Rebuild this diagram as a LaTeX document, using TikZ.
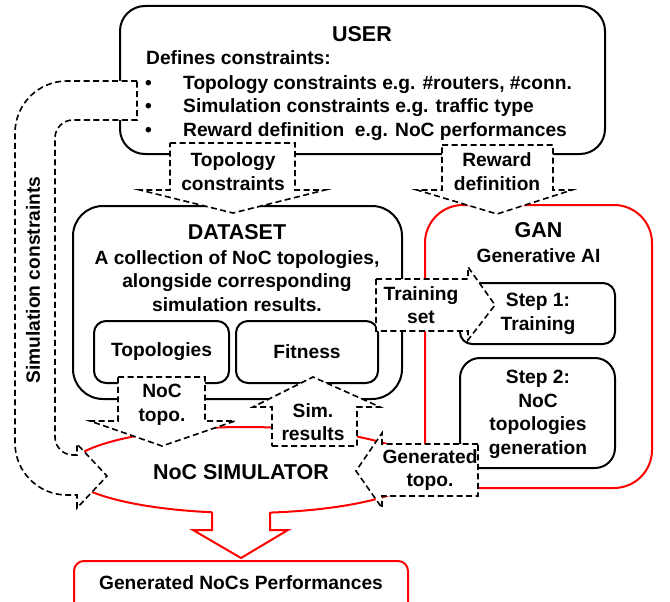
\documentclass[tikz,border=0pt]{standalone}
\usepackage{fontspec}
\setmainfont{Liberation Sans}
\usetikzlibrary{shapes.geometric}

\newcommand{\bodyfont}{\fontsize{19.2}{23.5}\selectfont\bfseries}
\newcommand{\titlefont}{\fontsize{21.5}{25}\selectfont\bfseries}

\begin{document}
\begin{tikzpicture}[x=1pt, y=-1pt,
    box/.style={rectangle, draw, line width=2pt, fill=white, inner sep=0},
    redbox/.style={box, draw=red},
    barrow/.style={draw, line width=1.6pt, dash pattern=on 6pt off 3.5pt, fill=white, line join=miter},
    lbl/.style={font=\bodyfont, align=center, inner sep=0},
    title/.style={font=\titlefont, inner sep=0}]

    \useasboundingbox (0,0) rectangle (670,602);
    \clip (0,0) rectangle (670,602);

    % USER
    \node [box, rounded corners=25, minimum width=485, minimum height=148] (user) at (362.5,80) {};
    \node [title] (usertxt) at (362,34) {USER};
    \node [lbl, anchor=base west] (defines) at (146,65) {Defines constraints:};
    \node [lbl, anchor=base west] (cons1) at (145,90) {\makebox[38pt][l]{•}Topology constraints e.g. \#routers, \#conn.};
    \node [lbl, anchor=base west] (cons2) at (145,113) {\makebox[38pt][l]{•}Simulation constraints e.g. traffic type};
    \node [lbl, anchor=base west] (cons3) at (145,136) {\makebox[38pt][l]{•}Reward definition\ \ e.g. NoC performances};

    % GAN
    \node [redbox, rounded corners=38, minimum width=227, minimum height=283] (gan) at (538.5,346.5) {};
    \node [title] (gantxt) at (538.5,230) {GAN};
    \node [lbl] (gensub) at (538.5,256) {Generative AI};
    \node [box, rounded corners=12, minimum width=155, minimum height=61] (step1) at (537.5,313.5) {};
    \node [lbl] (step1txt) at (538,314) {Step 1:\\Training};
    \node [box, rounded corners=20, minimum width=155, minimum height=110] (step2) at (537.5,413) {};
    \node [lbl] (step2txt) at (538,414.5) {Step 2:\\NoC\\topologies\\generation};

    % DATASET
    \node [box, rounded corners=30, minimum width=329, minimum height=193] (dataset) at (237.5,302.5) {};
    \node [title] (datatxt) at (237,232) {DATASET};
    \node [lbl] (datadesc) at (237,281) {A collection of NoC topologies,\\alongside corresponding\\simulation results.};
    \node [box, rounded corners=12, minimum width=135, minimum height=62] (topos) at (161.5,352) {};
    \node [lbl] (topostxt) at (161.5,352) {Topologies};
    \node [box, rounded corners=12, minimum width=142, minimum height=62] (fitness) at (307,352) {};
    \node [lbl] (fitnesstxt) at (307,352) {Fitness};

    % NoC SIMULATOR
    \node [ellipse, draw=red, line width=2pt, fill=white, minimum width=356, minimum height=86, inner sep=0] (sim) at (245,470) {};
    \fill [white] (212,505) -- (212,530) -- (193,530) -- (241,558) -- (288,530) -- (270,530) -- (270,505) -- cycle;
    \draw [red, line width=2pt, line join=miter] (212,512) -- (212,530) -- (193,530) -- (241,558) -- (288,530) -- (270,530) -- (270,512);
    \node [title] (simtxt) at (241,472) {NoC SIMULATOR};

    % Results
    \node [redbox, rounded corners=10, minimum width=334, minimum height=59] (perf) at (241,590.5) {};
    \node [lbl] (perftxt) at (241,582.5) {Generated NoCs Performances};

    % Block arrows
    \draw [barrow] (170,143) -- (295,143) -- (295,190) -- (325,190) -- (233,213) -- (140,190) -- (170,190) -- cycle;
    \node [lbl] (topocons) at (233,171.5) {Topology\\constraints};

    \draw [barrow] (442,145) -- (553,145) -- (553,190) -- (572,190) -- (497,214) -- (417,190) -- (442,190) -- cycle;
    \node [lbl] (rewarddef) at (497,171.5) {Reward\\definition};

    \draw [barrow] (137,81) [rounded corners=52] -- (15,81) -- (15,495) [sharp corners] -- (77,495) -- (77,508) -- (107,476) -- (77,444) -- (77,455) [rounded corners=18] -- (55,455) -- (55,120) [sharp corners] -- (137,120) -- cycle;
    \node [lbl, rotate=90] (simcons) at (33,280) {Simulation constraints};

    \draw [barrow] (118,377) -- (205,377) -- (205,421) -- (235,421) -- (162,446) -- (90,421) -- (118,421) -- cycle;
    \node [lbl] (noctopo) at (162,405) {NoC\\topo.};

    \draw [barrow] (272,446) -- (357,446) -- (357,407) -- (380,407) -- (313,377) -- (253,407) -- (272,407) -- cycle;
    \node [lbl] (simres) at (313,422) {Sim.\\results};

    \draw [barrow] (376,279) -- (468,279) -- (468,267) -- (495,305) -- (468,340) -- (468,331) -- (376,331) -- cycle;
    \node [lbl] (trainset) at (421,305) {Training\\set};

    \draw [barrow] (478,444) -- (382,444) -- (382,433) -- (356,471) -- (382,508) -- (382,496) -- (478,496) -- cycle;
    \node [lbl] (gentopo) at (430,470) {Generated\\topo.};
\end{tikzpicture}
\end{document}
